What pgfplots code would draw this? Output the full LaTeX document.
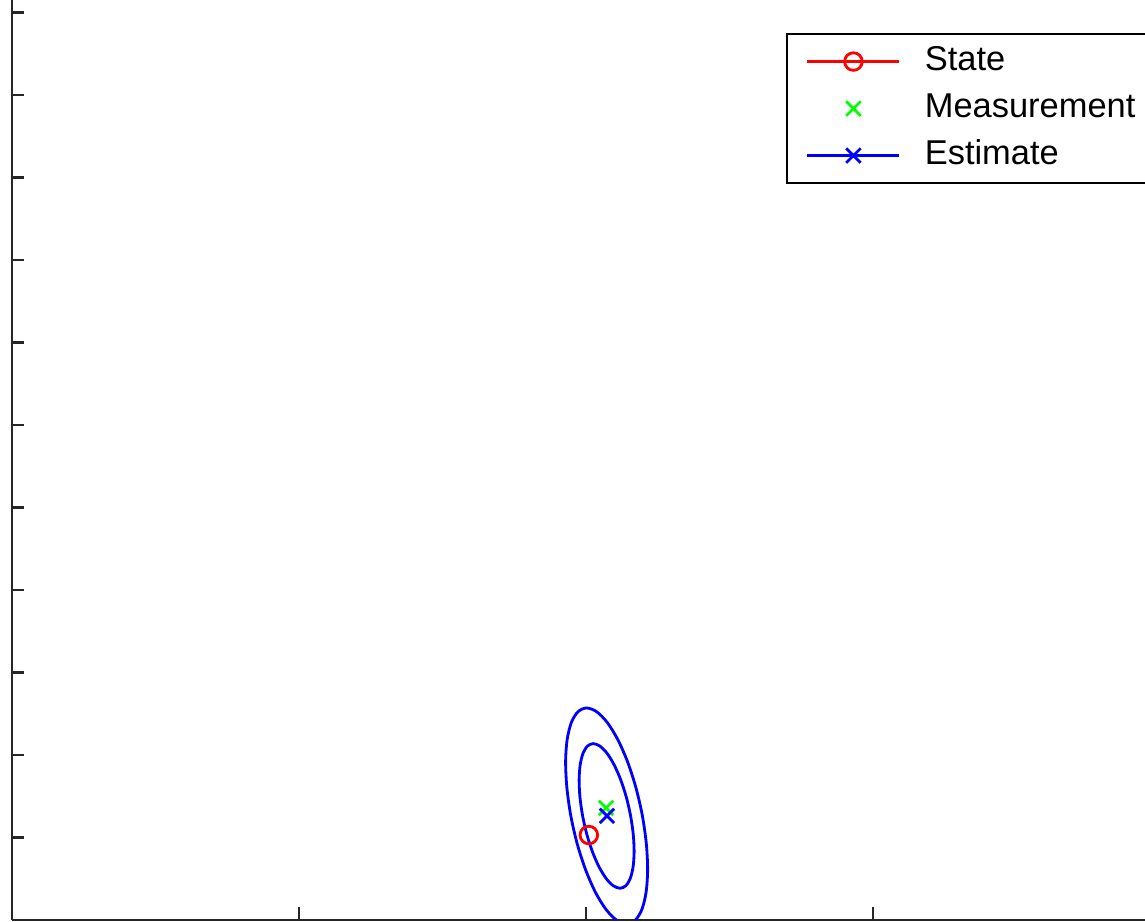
\documentclass[border=0pt]{standalone}
\usepackage{pgfplots}
\pgfplotsset{compat=1.18}
\usepackage{fontspec}
\setmainfont{Liberation Sans}
\definecolor{mred}{RGB}{255,0,0}
\definecolor{mgreen}{RGB}{0,255,0}
\definecolor{mblue}{RGB}{0,0,255}
\begin{document}
\begin{tikzpicture}
\useasboundingbox (0,0) rectangle (11.45cm,9.22cm);
\clip (0,0) rectangle (11.45cm,9.22cm);
\begin{axis}[
  at={(0.12cm,0.02cm)}, anchor=south west,
  scale only axis, width=11.33cm, height=9.2cm,
  xmin=0, xmax=3.948, ymin=0, ymax=11.152,
  axis x line*=bottom, axis y line*=left,
  axis line style={line width=0.6pt, black!85},
  xtick={0,1,2,3}, ytick={0,1,2,3,4,5,6,7,8,9,10,11},
  xticklabels={}, yticklabels={},
  tick align=inside, major tick length=1.25mm,
  tick style={line width=0.6pt, black!85},
  legend style={
    at={(axis description cs:0.6831,0.9641)}, anchor=north west,
    draw=black, line width=0.6pt, fill=white,
    inner xsep=1.9mm, inner ysep=1.2mm,
    font=\fontsize{9.8}{11.5}\selectfont,
    row sep=1.6mm,
    nodes={inner sep=0pt, text height=2.4mm, text depth=0.7mm},
    cells={anchor=west},
    /tikz/every odd column/.append style={column sep=2.4mm},
  },
  legend image code/.code={\draw[mark repeat=2,mark phase=2,line width=0.8pt] plot coordinates {(0cm,0cm)(0.46cm,0cm)(0.92cm,0cm)};},
]
% outer ellipse
\addplot[mblue, line width=0.8pt, smooth, forget plot] coordinates {
(2.1070,-0.003)(2.1417,-0.048)(2.1716,-0.003)(2.1948,0.127)(2.2095,0.335)(2.2149,0.607)(2.2104,0.922)
(2.1967,1.261)(2.1744,1.600)(2.1451,1.916)(2.1109,2.187)(2.0740,2.395)(2.0370,2.525)
(2.0023,2.570)(1.9724,2.525)(1.9492,2.395)(1.9345,2.187)(1.9291,1.916)(1.9336,1.600)
(1.9473,1.261)(1.9696,0.922)(1.9989,0.607)(2.0331,0.335)(2.0700,0.127)(2.1070,-0.003)
(2.1417,-0.048)(2.1716,-0.003)};
% inner ellipse
\addplot[mblue, line width=0.8pt, smooth, forget plot] coordinates {
(2.0955,0.414)(2.1187,0.384)(2.1387,0.414)(2.1542,0.502)(2.1641,0.641)(2.1678,0.823)(2.1649,1.034)
(2.1556,1.261)(2.1407,1.488)(2.1210,1.700)(2.0981,1.881)(2.0734,2.021)(2.0485,2.108)
(2.0253,2.138)(2.0053,2.108)(1.9898,2.021)(1.9799,1.881)(1.9762,1.700)(1.9791,1.488)
(1.9884,1.261)(2.0033,1.034)(2.0230,0.823)(2.0459,0.641)(2.0706,0.502)(2.0955,0.414)
(2.1187,0.384)(2.1387,0.414)};
\addplot[mred, line width=0.8pt, mark=o, mark size=2.5pt, mark options={solid}] coordinates {(2.010,1.030)};
\addlegendentry{State}
\addplot[mgreen, only marks, mark=x, mark size=2.9pt, line width=0.8pt] coordinates {(2.070,1.358)};
\addlegendentry{Measurement}
\addplot[mblue, line width=0.8pt, mark=x, mark size=2.9pt] coordinates {(2.073,1.262)};
\addlegendentry{Estimate}
\end{axis}
\end{tikzpicture}
\end{document}
